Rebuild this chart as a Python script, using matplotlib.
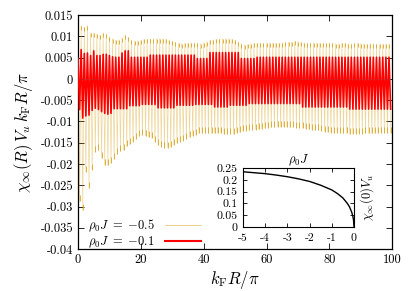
import numpy as np
import matplotlib
matplotlib.use("Agg")
import matplotlib.pyplot as plt

plt.rcParams['font.family'] = 'cmr10'
plt.rcParams['mathtext.fontset'] = 'cm'
plt.rcParams['axes.unicode_minus'] = False

# peak values, one per oscillation (k_F R / pi = 0 .. 99)
gold_max = [0.0150, 0.0125, 0.0122, 0.0125, 0.0108, 0.0108, 0.0105, 0.0103, 0.0108, 0.0106,
            0.0099, 0.0095, 0.0091, 0.0092, 0.0097, 0.0103, 0.0098, 0.0091, 0.0089, 0.0090,
            0.0091, 0.0093, 0.0093, 0.0094, 0.0095, 0.0095, 0.0095, 0.0095, 0.0094, 0.0092,
            0.0089, 0.0086, 0.0084, 0.0083, 0.0084, 0.0085, 0.0085, 0.0085, 0.0084, 0.0083,
            0.0085, 0.0088, 0.0091, 0.0092, 0.0093, 0.0094, 0.0095, 0.0095, 0.0095, 0.0094,
            0.0091, 0.0087, 0.0083, 0.0080, 0.0081, 0.0083, 0.0084, 0.0084, 0.0085, 0.0084,
            0.0084, 0.0085, 0.0085, 0.0084, 0.0084, 0.0085, 0.0086, 0.0086, 0.0087, 0.0089,
            0.0088, 0.0086, 0.0085, 0.0084, 0.0084, 0.0085, 0.0085, 0.0084, 0.0084, 0.0085,
            0.0085, 0.0084, 0.0083, 0.0083, 0.0084, 0.0084, 0.0083, 0.0083, 0.0084, 0.0084,
            0.0083, 0.0082, 0.0082, 0.0083, 0.0083, 0.0082, 0.0082, 0.0081, 0.0081, 0.0081]
gold_min = [-0.0288, -0.0309, -0.0218, -0.0257, -0.0214, -0.0171, -0.0168, -0.0187, -0.0203, -0.0203,
            -0.0198, -0.0189, -0.0177, -0.0170, -0.0168, -0.0158, -0.0153, -0.0148, -0.0142, -0.0135,
            -0.0132, -0.0134, -0.0137, -0.0140, -0.0148, -0.0156, -0.0160, -0.0163, -0.0162, -0.0159,
            -0.0155, -0.0151, -0.0148, -0.0145, -0.0141, -0.0137, -0.0133, -0.0131, -0.0128, -0.0128,
            -0.0128, -0.0128, -0.0128, -0.0128, -0.0128, -0.0128, -0.0130, -0.0130, -0.0130, -0.0130,
            -0.0126, -0.0125, -0.0123, -0.0122, -0.0121, -0.0120, -0.0119, -0.0118, -0.0117, -0.0116,
            -0.0115, -0.0114, -0.0114, -0.0113, -0.0113, -0.0113, -0.0113, -0.0114, -0.0114, -0.0115,
            -0.0115, -0.0116, -0.0117, -0.0118, -0.0119, -0.0120, -0.0121, -0.0122, -0.0124, -0.0125,
            -0.0126, -0.0127, -0.0127, -0.0128, -0.0128, -0.0128, -0.0129, -0.0129, -0.0129, -0.0129,
            -0.0129, -0.0128, -0.0128, -0.0128, -0.0128, -0.0128, -0.0127, -0.0127, -0.0127, -0.0127]
red_max = [0.0048, 0.0069, 0.0060, 0.0061, 0.0055, 0.0066, 0.0055, 0.0055, 0.0058, 0.0058,
           0.0055, 0.0052, 0.0051, 0.0051, 0.0061, 0.0066, 0.0066, 0.0051, 0.0051, 0.0051,
           0.0051, 0.0051, 0.0051, 0.0056, 0.0056, 0.0056, 0.0056, 0.0056, 0.0056, 0.0056,
           0.0056, 0.0056, 0.0056, 0.0056, 0.0056, 0.0056, 0.0056, 0.0056, 0.0048, 0.0048,
           0.0048, 0.0048, 0.0062, 0.0062, 0.0062, 0.0062, 0.0062, 0.0062, 0.0062, 0.0062,
           0.0062, 0.0062, 0.0048, 0.0048, 0.0048, 0.0048, 0.0048, 0.0051, 0.0051, 0.0051,
           0.0051, 0.0051, 0.0051, 0.0051, 0.0051, 0.0051, 0.0051, 0.0051, 0.0051, 0.0051,
           0.0051, 0.0051, 0.0051, 0.0051, 0.0051, 0.0051, 0.0051, 0.0051, 0.0051, 0.0051,
           0.0051, 0.0051, 0.0051, 0.0051, 0.0051, 0.0051, 0.0051, 0.0051, 0.0051, 0.0051,
           0.0051, 0.0051, 0.0051, 0.0051, 0.0051, 0.0051, 0.0051, 0.0051, 0.0051, 0.0051]
red_min = [-0.0072, -0.0092, -0.0087, -0.0085, -0.0074, -0.0069, -0.0072, -0.0077, -0.0081, -0.0083,
           -0.0081, -0.0070, -0.0070, -0.0070, -0.0070, -0.0070, -0.0063, -0.0063, -0.0063, -0.0063,
           -0.0060, -0.0060, -0.0060, -0.0060, -0.0060, -0.0068, -0.0068, -0.0068, -0.0068, -0.0068,
           -0.0068, -0.0062, -0.0062, -0.0062, -0.0062, -0.0062, -0.0062, -0.0060, -0.0060, -0.0060,
           -0.0060, -0.0060, -0.0060, -0.0066, -0.0066, -0.0066, -0.0066, -0.0066, -0.0062, -0.0062,
           -0.0062, -0.0062, -0.0062, -0.0062, -0.0058, -0.0058, -0.0058, -0.0058, -0.0058, -0.0058,
           -0.0058, -0.0058, -0.0058, -0.0058, -0.0058, -0.0058, -0.0058, -0.0058, -0.0058, -0.0058,
           -0.0058, -0.0066, -0.0066, -0.0066, -0.0066, -0.0066, -0.0066, -0.0066, -0.0066, -0.0066,
           -0.0066, -0.0066, -0.0066, -0.0066, -0.0066, -0.0066, -0.0071, -0.0071, -0.0071, -0.0071,
           -0.0071, -0.0071, -0.0071, -0.0071, -0.0071, -0.0071, -0.0071, -0.0071, -0.0071, -0.0071]

# inset: chi_inf(0) V_u against rho_0 J
inset_x = [-5, -4.5, -4, -3.5, -3, -2.5, -2, -1.5, -1, -0.75, -0.5, -0.3, -0.2, -0.1, -0.05, -0.02, 0]
inset_y = [0.234, 0.230, 0.226, 0.220, 0.213, 0.204, 0.193, 0.177, 0.157, 0.142, 0.123, 0.100,
           0.085, 0.062, 0.045, 0.028, 0.0]

xticks = [0, 20, 40, 60, 80, 100]
yticks = [0.015, 0.01, 0.005, 0, -0.005, -0.01, -0.015, -0.02, -0.025, -0.03, -0.035, -0.04]
ytick_labels = ['0.015', '0.01', '0.005', '0', '-0.005', '-0.01', '-0.015', '-0.02',
                '-0.025', '-0.03', '-0.035', '-0.04']
inset_xticks = [-5, -4, -3, -2, -1, 0]
inset_yticks = [0, 0.05, 0.1, 0.15, 0.2, 0.25]
inset_ytick_labels = ['0', '0.05', '0.1', '0.15', '0.2', '0.25']

gold = '#daa520'
red = '#ff0000'


def zigzag(vmax, vmin):
    # max at each integer, min half way between
    k = np.arange(len(vmax))
    x = np.column_stack([k, k + 0.5]).ravel()
    y = np.column_stack([vmax, vmin]).ravel()
    return x, y


fig = plt.figure(figsize=(4.15, 2.91), dpi=100)
ax = fig.add_axes([0.188, 0.144, 0.757, 0.804])

xg, yg = zigzag(gold_max, gold_min)
ax.plot(xg, yg, color=gold, lw=0.5, alpha=0.45, zorder=2)
k = np.arange(len(gold_max))
ax.plot(k, gold_max, ls='none', marker=[(0, 0), (0, -1)], ms=6, mew=0.6, color=gold, zorder=2)
ax.plot(k + 0.5, gold_min, ls='none', marker=[(0, 0), (0, 1)], ms=8, mew=0.6, color=gold, zorder=2)
xr, yr = zigzag(red_max, red_min)
ax.plot(xr, yr, color=red, lw=1.2, zorder=3)
ax.axhline(0, color='0.4', lw=0.5, ls=(0, (2, 2)), alpha=0.6, zorder=4)

# legend handles
ax.plot([], [], color=gold, lw=0.6, alpha=0.6, label=r'$\rho_0 J\ =\ {-0.5}$')
ax.plot([], [], color=red, lw=1.5, label=r'$\rho_0 J\ =\ {-0.1}$')
handles, labels = ax.get_legend_handles_labels()
ax.legend(handles, labels, loc='lower left', bbox_to_anchor=(0.015, -0.025), frameon=False,
          markerfirst=False, fontsize=9, handlelength=2.9, handletextpad=0.8,
          labelspacing=0.05, borderaxespad=0.0)

ax.set_xlim(0, 100)
ax.set_ylim(-0.04, 0.015)
ax.set_xticks(xticks)
ax.set_xticklabels([str(t) for t in xticks])
ax.set_yticks(yticks)
ax.set_yticklabels(ytick_labels)
ax.tick_params(direction='in', top=True, right=True, labelsize=9, length=4, width=0.6)
for s in ax.spines.values():
    s.set_linewidth(0.9)
ax.set_xlabel(r'$k_{\mathrm{F}} R/\pi$', fontsize=12, labelpad=2)
ax.set_ylabel(r'$\chi_\infty(R)\,V_u\, k_{\mathrm{F}} R/\pi$', fontsize=12, labelpad=4)

# inset
ins = fig.add_axes([0.5855, 0.22, 0.2675, 0.2027])
ins.plot(inset_x, inset_y, color='black', lw=1.0)
ins.set_xlim(-5, 0)
ins.set_ylim(0, 0.25)
ins.set_xticks(inset_xticks)
ins.set_xticklabels(['-5', '-4', '-3', '-2', '-1', '0'])
ins.set_yticks(inset_yticks)
ins.set_yticklabels(inset_ytick_labels)
ins.tick_params(direction='in', top=True, right=True, labelsize=8.5, length=3, width=0.6)
ins.tick_params(axis='x', pad=5)
ins.tick_params(axis='y', pad=4)
ins.xaxis.set_label_position('top')
ins.set_xlabel(r'$\rho_0 J$', fontsize=9, labelpad=3)
ins.yaxis.set_label_position('right')
ins.set_ylabel(r'$\chi_\infty(0)V_u$', fontsize=9, rotation=90, labelpad=3)

fig.savefig('out.png', dpi=100)
